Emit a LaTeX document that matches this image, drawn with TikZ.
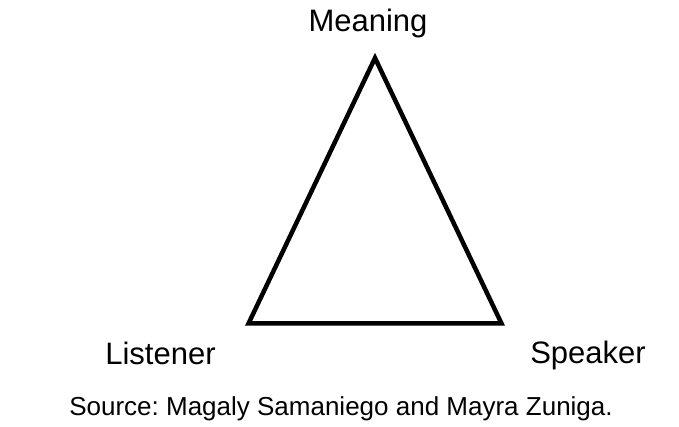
\documentclass[tikz,border=0pt]{standalone}
\usepackage{fontspec}
\setmainfont{Liberation Sans}
\frenchspacing
\begin{document}
\begin{tikzpicture}[x=1pt,y=1pt,
  lbl/.style={inner sep=0pt,anchor=base,font=\fontsize{31}{37}\selectfont},
  src/.style={inner sep=0pt,anchor=base,font=\fontsize{26}{32}\selectfont\frenchspacing},
  tri/.style={line width=4.5pt,line join=miter}]
\useasboundingbox (0,0) rectangle (679,427);
\coordinate (A) at (375,369);
\coordinate (B) at (248.5,103.5);
\coordinate (C) at (501.5,103.5);
\draw[tri] (A) -- (B) -- (C) -- cycle;
\node[lbl] (meaning) at (368,395) {Meaning};
\node[lbl] (listener) at (160.5,62) {Listener};
\node[lbl] (speaker) at (588,63) {Speaker};
\node[src] (source) at (341,11) {Source: Magaly Samaniego and Mayra Zuniga.};
\end{tikzpicture}
\end{document}
